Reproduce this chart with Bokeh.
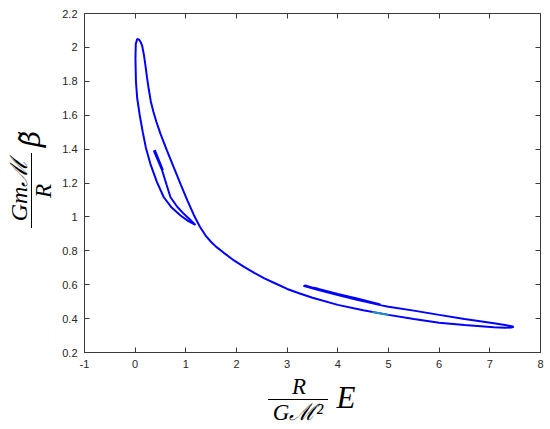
from bokeh.plotting import figure
from bokeh.models import LinearAxis, FixedTicker, CustomJSTickFormatter, Div
from bokeh.layouts import row, column
from bokeh.embed import file_html
from bokeh.resources import INLINE

# ---- data (E = R/(G M^2) E, B = G m M / R beta~) ----
seg1_E = [0.368, 0.533, 0.388, 0.548, 0.372, 0.533]
seg1_B = [1.392, 1.274, 1.394, 1.276, 1.388, 1.274]

mid_E = [0.533, 0.62, 0.697, 0.83, 0.96, 1.08, 1.19]
mid_B = [1.274, 1.19, 1.116, 1.06, 1.018, 0.985, 0.953]

left_E = [1.19, 1.05, 0.895, 0.72, 0.565, 0.43, 0.30, 0.21, 0.15, 0.09, 0.04, 0.015, 0.006, 0.012, 0.04]
left_B = [0.953, 0.975, 1.008, 1.055, 1.116, 1.205, 1.313, 1.41, 1.50, 1.60, 1.70, 1.80, 1.933, 2.02, 2.05]

right_E = [0.04, 0.08, 0.11, 0.138, 0.17, 0.20, 0.235, 0.27, 0.31, 0.36, 0.42, 0.50, 0.63, 0.76, 0.90,
           1.03, 1.16, 1.28, 1.39, 1.5, 1.6, 1.75, 1.95, 2.15, 2.35, 2.55, 2.77, 3.0, 3.25, 3.5,
           4.0, 4.5, 5.0, 5.5, 6.0, 6.5, 7.08, 7.3, 7.42, 7.47]
right_B = [2.05, 2.045, 2.03, 2.01, 1.96, 1.90, 1.82, 1.75, 1.68, 1.62, 1.56, 1.49, 1.39, 1.293, 1.19,
           1.097, 1.01, 0.94, 0.89, 0.852, 0.823, 0.788, 0.743, 0.705, 0.67, 0.637, 0.607, 0.575, 0.548, 0.523,
           0.481, 0.449, 0.422, 0.397, 0.375, 0.362, 0.349, 0.346, 0.347, 0.352]

upper_E = [7.47, 7.3, 7.08, 6.5, 6.0, 5.5, 5.0, 4.86]
upper_B = [0.352, 0.362, 0.373, 0.398, 0.422, 0.447, 0.470, 0.478]

seg2_E = [4.86, 4.4, 4.0, 3.6, 3.32, 3.6, 4.0, 4.4, 4.84, 4.4, 4.0, 3.6, 3.34]
seg2_B = [0.478, 0.510, 0.539, 0.570, 0.593, 0.577, 0.546, 0.517, 0.484, 0.513, 0.542, 0.573, 0.597]

cyan_E = [4.68, 4.85, 5.0]
cyan_B = [0.439, 0.430, 0.422]

x_ticks = [-1, 0, 1, 2, 3, 4, 5, 6, 7, 8]
x_tick_labels = ["-1", "0", "1", "2", "3", "4", "5", "6", "7", "8"]
y_ticks = [0.2, 0.4, 0.6, 0.8, 1.0, 1.2, 1.4, 1.6, 1.8, 2.0, 2.2]
y_tick_labels = ["0.2", "0.4", "0.6", "0.8", "1", "1.2", "1.4", "1.6", "1.8", "2", "2.2"]

path_E = seg1_E + mid_E + left_E + right_E + upper_E + seg2_E
path_B = seg1_B + mid_B + left_B + right_B + upper_B + seg2_B

AX = "#3a3a3a"
TXT = "#262626"

W_LEFT = 58      # width of the y-label strip
H_FIG = 372      # height of the figure part

p = figure(width=550 - W_LEFT, height=H_FIG, x_range=(-1, 8), y_range=(0.2, 2.2),
           output_backend="svg", toolbar_location=None,
           min_border_left=84 - W_LEFT, min_border_right=10, min_border_top=13,
           min_border_bottom=H_FIG - 352,
           background_fill_color="white", border_fill_color="white")
p.outline_line_color = None
p.grid.visible = False

p.line(path_E, path_B, line_color="#0000ff", line_width=2.0)
p.line(cyan_E, cyan_B, line_color="#1e90c0", line_width=2.0)


def style(ax, ticks, labels, show):
    ax.ticker = FixedTicker(ticks=ticks)
    ax.axis_line_color = AX
    ax.axis_line_width = 1
    ax.major_tick_line_color = AX
    ax.major_tick_in = 5
    ax.major_tick_out = 0
    ax.minor_tick_line_color = None
    ax.major_label_text_font = "Liberation Sans"
    ax.major_label_text_font_size = "11px"
    ax.major_label_text_color = TXT
    if show:
        ax.major_label_overrides = {t: l for t, l in zip(ticks, labels)}
    else:
        ax.formatter = CustomJSTickFormatter(code="return ''")
        ax.major_label_standoff = 0


style(p.xaxis[0], x_ticks, x_tick_labels, True)
style(p.yaxis[0], y_ticks, y_tick_labels, True)
p.xaxis[0].major_label_standoff = 7
p.yaxis[0].major_label_standoff = 7

top = LinearAxis()
right = LinearAxis()
style(top, x_ticks, x_tick_labels, False)
style(right, y_ticks, y_tick_labels, False)
p.add_layout(top, "above")
p.add_layout(right, "right")

# ---- axis titles, written as real (SVG) text beside the figure ----
def st(size, family="'Liberation Serif','DejaVu Serif',serif"):
    return (f'style="font-family:{family};font-style:italic;'
            f'font-size:{size}px;fill:#000;text-anchor:middle"')

ylabel_svg = (
    f'<svg xmlns="http://www.w3.org/2000/svg" width="{W_LEFT}" height="429" style="display:block;overflow:visible">'
    f'<text {st(24)} transform="translate(27,190) rotate(-90)">Gmℳ</text>'
    f'<line x1="31.5" y1="153" x2="31.5" y2="228" style="stroke:#000;stroke-width:1"></line>'
    f'<text {st(23)} transform="translate(51,191) rotate(-90)">R</text>'
    f'<text {st(28, "\'DejaVu Serif\',serif")} transform="translate(40,139) rotate(-90)">β\u0303</text>'
    '</svg>'
)

ox, oy = W_LEFT, H_FIG
xlabel_svg = (
    f'<svg xmlns="http://www.w3.org/2000/svg" width="{550 - W_LEFT}" height="{429 - H_FIG}" style="display:block;overflow:visible">'
    f'<text {st(23)} x="{299 - ox}" y="{393.5 - oy}">R</text>'
    f'<line x1="{268 - ox}" y1="{399.5 - oy}" x2="{328 - ox}" y2="{399.5 - oy}" style="stroke:#000;stroke-width:1"></line>'
    f'<text {st(23)} x="{298 - ox}" y="{420 - oy}">Gℳ²</text>'
    f'<text {st(31)} x="{346 - ox}" y="{408 - oy}">E</text>'
    '</svg>'
)

ydiv = Div(text=ylabel_svg, width=W_LEFT, height=429, margin=0)
xdiv = Div(text=xlabel_svg, width=550 - W_LEFT, height=429 - H_FIG, margin=0)

layout = row(ydiv, column(p, xdiv, spacing=0), spacing=0)

open("out.html", "w").write(file_html(layout, INLINE))
